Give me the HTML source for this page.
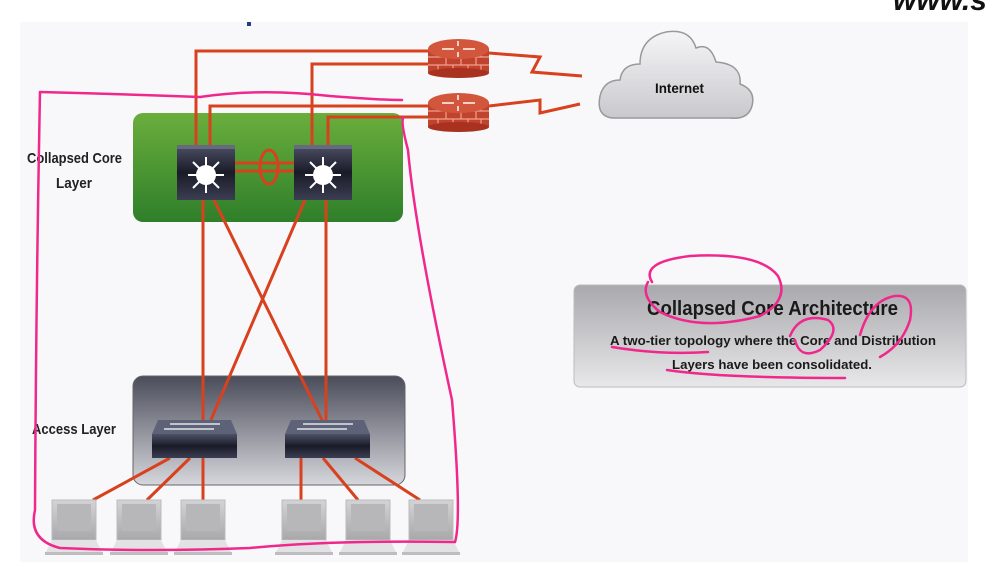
<!DOCTYPE html>
<html><head><meta charset="utf-8"><style>
html,body{margin:0;padding:0;background:#fff;width:997px;height:588px;overflow:hidden}
svg{display:block}
text{font-family:"Liberation Sans",sans-serif;font-weight:bold}
</style></head><body>
<svg width="997" height="588" viewBox="0 0 997 588" xmlns="http://www.w3.org/2000/svg">
<defs>
<linearGradient id="g" x1="0" y1="0" x2="0" y2="1"><stop offset="0" stop-color="#6aae3c"/><stop offset="1" stop-color="#2f7f2a"/></linearGradient>
<linearGradient id="a" x1="0" y1="0" x2="0" y2="1"><stop offset="0" stop-color="#4a4c5a"/><stop offset="1" stop-color="#d6d7dc"/></linearGradient>
<linearGradient id="sw" x1="0" y1="0" x2="0" y2="1"><stop offset="0" stop-color="#4d5166"/><stop offset=".5" stop-color="#1a1b28"/><stop offset="1" stop-color="#3b3e52"/></linearGradient>
<linearGradient id="tb" x1="0" y1="0" x2="0" y2="1"><stop offset="0" stop-color="#a9a9ad"/><stop offset="1" stop-color="#e8e8ea"/></linearGradient>
<linearGradient id="cl" x1="0" y1="0" x2="0" y2="1"><stop offset="0" stop-color="#f5f5f7"/><stop offset="1" stop-color="#c9c9cd"/></linearGradient>
<linearGradient id="lp" x1="0" y1="0" x2="0" y2="1"><stop offset="0" stop-color="#d4d4d6"/><stop offset="1" stop-color="#a8a8ab"/></linearGradient>
<g id="rt">
<rect x="0" y="12" width="61" height="24" fill="#c0432d"/>
<path d="M0 20H61M0 28H61M10 12V20M25 12V20M40 12V20M53 12V20M18 20V28M33 20V28M48 20V28M10 28V36M25 28V36M40 28V36M53 28V36" stroke="#f2a08e" stroke-width="1.2"/>
<ellipse cx="30.5" cy="36" rx="30.5" ry="5" fill="#a8321f"/>
<ellipse cx="30.5" cy="12" rx="30.5" ry="10" fill="#d2563c"/>
<path d="M14 12H26M35 12H47M30 4V9M30 15V20" stroke="#f6d0c6" stroke-width="2"/>
</g>
<g id="cs">
<rect width="58" height="55" fill="url(#sw)"/>
<rect width="58" height="4" fill="#666a7e"/>
<circle cx="29" cy="30" r="10" fill="#fff"/>
<path d="M29 30V12M29 30V48M29 30H11M29 30H47M29 30L16 17M29 30L42 17M29 30L16 43M29 30L42 43" stroke="#fff" stroke-width="2"/>
</g>
<g id="as">
<path d="M6 0H79L85 14H0Z" fill="#5d6279"/>
<path d="M18 4H68M12 9H62" stroke="#fff" stroke-width="1.3"/>
<rect y="14" width="85" height="24" fill="url(#sw)"/>
</g>
<g id="lt">
<rect x="4" y="0" width="44" height="40" fill="url(#lp)" stroke="#bbb"/>
<rect x="9" y="4" width="34" height="27" fill="#b7b7ba"/>
<path d="M4 40H48L54 52H-2Z" fill="#e2e2e4"/>
<rect x="-3" y="52" width="58" height="3" fill="#bdbdc0"/>
</g>
</defs>
<rect x="20" y="22" width="948" height="540" fill="#f8f8fa"/>
<text x="893" y="10" font-size="30" font-style="italic" fill="#111">www.s</text>
<rect x="247" y="22" width="4" height="4" fill="#1e3f7a"/>
<rect x="133" y="113" width="270" height="109" rx="10" fill="url(#g)"/>
<rect x="133" y="376" width="272" height="109" rx="10" fill="url(#a)" stroke="#666"/>
<g stroke="#d8411e" stroke-width="3" fill="none">
<path d="M196 145V51H430M312 145V64H430M210 145V106H430M328 145V117H430"/>
<path d="M489 53L540 57L532 72L582 76M489 106L540 100L540 113L580 104"/>
<path d="M235 163H294M235 171H294"/>
<ellipse cx="269" cy="167" rx="9" ry="17"/>
<path d="M203 200V422M214 200L323 422M305 200L210 422M326 200V422"/>
<path d="M170 458L93 500M190 458L147 500M203 458V500M301 458V500M323 458L358 500M355 458L420 500"/>
</g>
<use href="#rt" x="428" y="37"/>
<use href="#rt" x="428" y="91"/>
<use href="#cs" x="177" y="145"/>
<use href="#cs" x="294" y="145"/>
<use href="#as" x="152" y="420"/>
<use href="#as" x="285" y="420"/>
<use href="#lt" x="48" y="500"/><use href="#lt" x="113" y="500"/><use href="#lt" x="177" y="500"/>
<use href="#lt" x="278" y="500"/><use href="#lt" x="342" y="500"/><use href="#lt" x="405" y="500"/>
<path d="M612 118Q596 116 600 96Q604 80 620 80Q622 64 640 64Q640 38 666 32Q690 28 696 48Q710 42 716 62Q742 64 740 84Q756 90 752 106Q748 120 730 118Z" fill="url(#cl)" stroke="#999" stroke-width="1.5"/>
<text x="655" y="93" font-size="14" fill="#111" textLength="49" lengthAdjust="spacingAndGlyphs">Internet</text>
<text x="27" y="163" font-size="15" fill="#222" textLength="95" lengthAdjust="spacingAndGlyphs">Collapsed Core</text>
<text x="56" y="188" font-size="15" fill="#222" textLength="36" lengthAdjust="spacingAndGlyphs">Layer</text>
<text x="32" y="434" font-size="15" fill="#222" textLength="84" lengthAdjust="spacingAndGlyphs">Access Layer</text>
<rect x="574" y="285" width="392" height="102" rx="6" fill="url(#tb)" stroke="#bbb"/>
<text x="647" y="315" font-size="20" fill="#1a1a1a" textLength="251" lengthAdjust="spacingAndGlyphs">Collapsed Core Architecture</text>
<text x="610" y="345" font-size="13" fill="#1a1a1a" textLength="326" lengthAdjust="spacingAndGlyphs">A two-tier topology where the Core and Distribution</text>
<text x="672" y="369" font-size="13" fill="#1a1a1a" textLength="200" lengthAdjust="spacingAndGlyphs">Layers have been consolidated.</text>
<g stroke="#f0288c" stroke-width="2.5" fill="none" stroke-linecap="round">
<path d="M40 92Q36 300 35 510Q28 540 60 548Q150 552 250 548Q330 540 455 542Q462 520 452 400Q415 230 408 150Q400 120 404 117M40 92Q120 94 200 97Q260 88 330 96Q380 100 402 100"/>
<path d="M652 282Q640 262 690 256Q760 252 778 276Q790 300 760 316Q700 332 660 312Q640 296 648 282"/>
<path d="M612 347Q660 355 708 352M667 370Q720 378 845 378"/>
<path d="M790 336Q800 312 828 320Q842 330 820 350Q800 360 795 340"/>
<path d="M860 335Q870 300 895 296Q915 294 910 320Q902 345 880 357"/>
</g>
</svg>
</body></html>
